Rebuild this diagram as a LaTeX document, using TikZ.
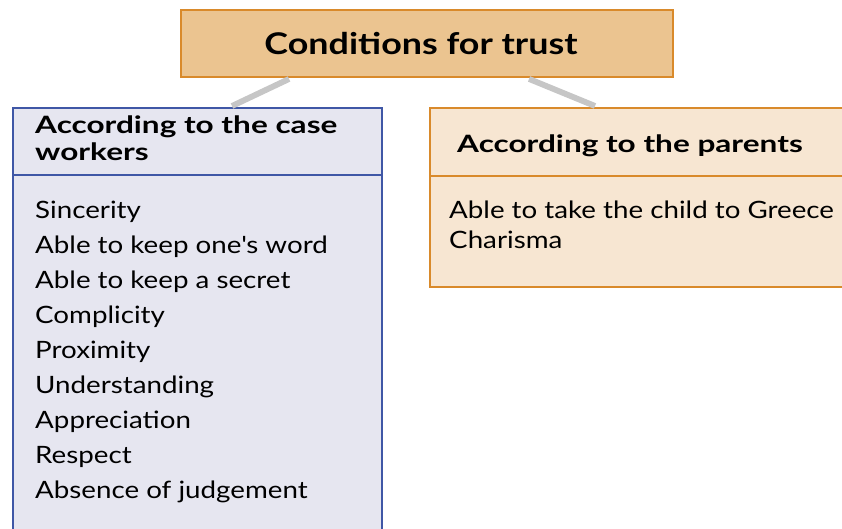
\documentclass[tikz,border=0pt]{standalone}
\usepackage{fontspec}
\setmainfont{Lato}[FakeStretch=1.16]
\newfontfamily\headfont{Lato}[FakeStretch=1.32]
\newfontfamily\titlefont{Lato}[FakeStretch=1.2]
\usepackage{xcolor}
\usetikzlibrary{calc}
\definecolor{titlefill}{HTML}{EBC490}
\definecolor{orangeline}{HTML}{D98A2B}
\definecolor{cwfill}{HTML}{E6E6F0}
\definecolor{cwline}{HTML}{3F57A6}
\definecolor{parfill}{HTML}{F7E6D2}
\tikzset{
  link/.style={draw=gray!45, line width=5pt},
  box/.style={line width=1.6pt, inner sep=0pt},
  head/.style={font=\headfont\bfseries\fontsize{20.4}{23}\selectfont, inner sep=0pt, align=left},
  entry/.style={font=\fontsize{20.4}{24}\selectfont, inner sep=0pt, anchor=base west}
}
\begin{document}
\begin{tikzpicture}[x=0.03cm,y=-0.03cm]
\useasboundingbox (0,0) rectangle (842,528);
\clip (0,0) rectangle (842,528);
% boxes
\node[box, draw=orangeline, fill=titlefill, minimum width=14.76cm, minimum height=2.01cm] (title) at (427,43.5) {};
\node[box, draw=cwline, fill=cwfill, anchor=north west, minimum width=11.07cm,
  minimum height=12.99cm] (cwbox) at (12,107) {};
\node[box, draw=orangeline, fill=parfill, anchor=north west, minimum width=12.93cm,
  minimum height=5.37cm] (parbox) at (429,107) {};
\node[font=\titlefont\bfseries\fontsize{25.5}{28}\selectfont, inner sep=0pt, anchor=base]
  (titletext) at (421,54) {Conditions for trust};
% connectors
\draw[link] ($(title.south west)+(109,1)$) -- ($(cwbox.north west)+(220,-1)$);
\draw[link] ($(title.south west)+(349,1)$) -- ($(parbox.north west)+(166,-1)$);
% dividers
\draw[cwline, line width=1.6pt] (cwbox.west |- 0,175) -- (cwbox.east |- 0,175);
\draw[orangeline, line width=1.6pt] (parbox.west |- 0,176) -- (parbox.east |- 0,176);
% headers
\node[head, anchor=north west] (cwhead) at (35,116) {According to the case\\workers};
\node[head, anchor=base west] (parhead) at (457,152) {According to the parents};
% items
\foreach \txt [count=\i] in {Sincerity, Able to keep one\textquotesingle s word, Able to keep a secret,
  Complicity, Proximity, Understanding, Appreciation, Respect, Absence of judgement}
  \node[entry] (cw\i) at (35,{218+35*(\i-1)}) {\txt};
\node[entry] (par1) at (449,218) {Able to take the child to Greece};
\node[entry] (par2) at (449,248) {Charisma};
%
\end{tikzpicture}
\end{document}
